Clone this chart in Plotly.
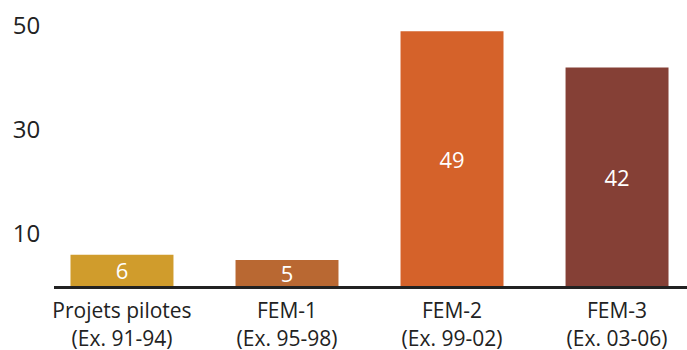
import plotly.graph_objects as go

categories = ["Projets pilotes<br>(Ex. 91-94)", "FEM-1<br>(Ex. 95-98)", "FEM-2<br>(Ex. 99-02)", "FEM-3<br>(Ex. 03-06)"]
values = [6, 5, 49, 42]
colors = ["#D09C2C", "#B96832", "#D5622A", "#854036"]
y_tick_vals = [10, 30, 50]

FONT = "Open Sans"

fig = go.Figure(go.Bar(
    x=categories, y=values,
    marker=dict(color=colors, line=dict(width=0)),
    width=0.624,
    text=[str(v) for v in values],
    textposition="inside", insidetextanchor="middle",
    textangle=0, constraintext="none",
    textfont=dict(color="white", size=22, family=FONT),
    hoverinfo="skip",
))

fig.update_layout(
    width=687, height=350,
    margin=dict(l=54, r=0, t=0, b=64),
    plot_bgcolor="white", paper_bgcolor="white",
    showlegend=False,
    font=dict(family=FONT, color="#222222", size=21),
)
fig.update_xaxes(
    type="category",
    range=[-0.412, 3.424],
    showline=True, linecolor="#222222", linewidth=3,
    showgrid=False, zeroline=False,
    ticks="outside", ticklen=4, tickcolor="rgba(0,0,0,0)",
    tickfont=dict(size=21),
    automargin=False,
)
fig.update_yaxes(
    range=[0, 55],
    tickvals=y_tick_vals,
    showgrid=False, zeroline=False, showline=False,
    ticks="outside", ticklen=8, tickcolor="rgba(0,0,0,0)",
    tickfont=dict(size=24),
    automargin=False,
)

fig.write_html("out.html")
